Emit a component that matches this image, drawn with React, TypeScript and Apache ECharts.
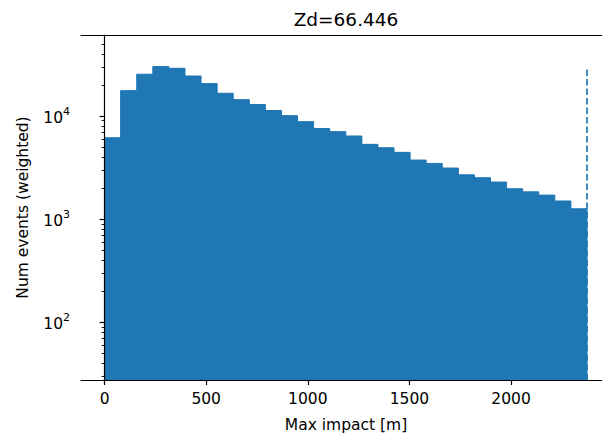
import React, { useEffect, useRef } from "react";
import * as echarts from "echarts";

const TITLE = "Zd=66.446";
const X_LABEL = "Max impact [m]";
const Y_LABEL = "Num events (weighted)";

// Weighted histogram of the maximum impact distance: 30 equal bins from 0 m
const BIN_START = 0;
const BIN_WIDTH = 79.13;
const COUNTS = [
  6150, 17600, 25400, 30100, 29000, 24400, 20600, 16600, 14400, 12900,
  11300, 10070, 8810, 7560, 7050, 6400, 5310, 4920, 4440, 3740,
  3470, 3130, 2690, 2520, 2290, 1970, 1840, 1710, 1500, 1260,
];

const X_TICKS = [0, 500, 1000, 1500, 2000];
const Y_MAJOR_TICKS = [100, 1000, 10000];
const Y_MINOR_TICKS = [
  30, 40, 50, 60, 70, 80, 90,
  200, 300, 400, 500, 600, 700, 800, 900,
  2000, 3000, 4000, 5000, 6000, 7000, 8000, 9000,
  20000, 30000, 40000, 50000, 60000,
];
const X_RANGE = [-116, 2492];
const Y_RANGE = [27.6, 60950];

const BLUE = "#1f77b4";
const FONT = "DejaVu Sans";
const TICK_FONT = 15.5;

export default function App() {
  const ref = useRef<HTMLDivElement>(null);

  useEffect(() => {
    document.body.style.margin = "0";
    const chart = echarts.init(ref.current!, undefined, { renderer: "svg" });

    const bins = COUNTS.map((c, i) => [
      BIN_START + i * BIN_WIDTH,
      BIN_START + (i + 1) * BIN_WIDTH,
      c,
    ]);
    const lastEdge = BIN_START + COUNTS.length * BIN_WIDTH;
    const peak = Math.max(...COUNTS);

    const spine = { show: true, lineStyle: { color: "#000", width: 1.2 } };

    chart.setOption({
      animation: false,
      backgroundColor: "#fff",
      // the plot area runs a little past the right edge of the canvas
      grid: {
        left: 81,
        right: -9,
        top: 35,
        bottom: 57,
        containLabel: false,
        outerBoundsMode: "none",
      },
      graphic: [
        {
          type: "text",
          x: 346,
          y: 19.5,
          style: {
            text: TITLE,
            fontFamily: FONT,
            fontSize: 18.5,
            fill: "#000",
            textAlign: "center",
            textVerticalAlign: "middle",
          },
        },
      ],
      xAxis: [
        {
          type: "value",
          position: "bottom",
          min: X_RANGE[0],
          max: X_RANGE[1],
          z: 10,
          axisLine: spine,
          axisTick: {
            show: true,
            customValues: X_TICKS,
            length: 5,
            lineStyle: { color: "#000", width: 1.2 },
          },
          axisLabel: {
            customValues: X_TICKS,
            margin: 11,
            formatter: (v: number) => String(v),
            fontFamily: FONT,
            fontSize: TICK_FONT,
            color: "#000",
          },
          splitLine: { show: false },
          name: X_LABEL,
          nameLocation: "middle",
          nameGap: 37,
          nameTextStyle: { fontFamily: FONT, fontSize: TICK_FONT, color: "#000" },
        },
        {
          type: "value",
          position: "top",
          min: X_RANGE[0],
          max: X_RANGE[1],
          z: 10,
          axisLine: spine,
          axisTick: { show: false },
          axisLabel: { show: false },
          splitLine: { show: false },
        },
      ],
      yAxis: [
        {
          type: "log",
          logBase: 10,
          min: Y_RANGE[0],
          max: Y_RANGE[1],
          position: "left",
          z: 10,
          axisLine: spine,
          axisTick: {
            show: true,
            customValues: Y_MAJOR_TICKS,
            length: 5,
            lineStyle: { color: "#000", width: 1.2 },
          },
          axisLabel: {
            customValues: Y_MAJOR_TICKS,
            margin: 11,
            formatter: (v: number) => `{b|10}{s|${Math.round(Math.log10(v))}}`,
            rich: {
              b: { fontFamily: FONT, fontSize: TICK_FONT, color: "#000", lineHeight: 20, verticalAlign: "bottom" },
              s: { fontFamily: FONT, fontSize: 11, color: "#000", lineHeight: 11, verticalAlign: "top" },
            },
          },
          splitLine: { show: false },
          minorTick: { show: false },
          name: Y_LABEL,
          nameLocation: "middle",
          nameGap: 50,
          nameTextStyle: { fontFamily: FONT, fontSize: TICK_FONT, color: "#000" },
        },
        {
          type: "log",
          logBase: 10,
          min: Y_RANGE[0],
          max: Y_RANGE[1],
          position: "left",
          z: 10,
          axisLine: { show: false },
          axisTick: {
            show: true,
            customValues: Y_MINOR_TICKS,
            length: 3,
            lineStyle: { color: "#000", width: 0.9 },
          },
          axisLabel: { show: false },
          splitLine: { show: false },
        },
      ],
      series: [
        {
          type: "custom",
          xAxisIndex: 0,
          yAxisIndex: 0,
          data: bins,
          encode: { x: [0, 1], y: 2 },
          renderItem: (params: any, api: any) => {
            const top = api.coord([api.value(0), api.value(2)]);
            const end = api.coord([api.value(1), Y_RANGE[0]]);
            return {
              type: "rect",
              shape: { x: top[0], y: top[1], width: end[0] - top[0], height: end[1] - top[1] },
              style: { fill: BLUE, stroke: BLUE, lineWidth: 1 },
            };
          },
        },
        {
          type: "line",
          xAxisIndex: 0,
          yAxisIndex: 0,
          data: [
            [lastEdge, Y_RANGE[0]],
            [lastEdge, peak],
          ],
          symbol: "none",
          z: 5,
          lineStyle: { color: BLUE, width: 2, type: [6.5, 3], opacity: 0.85 },
        },
      ],
    });

    return () => chart.dispose();
  }, []);

  return <div ref={ref} style={{ width: 602, height: 437 }} />;
}
